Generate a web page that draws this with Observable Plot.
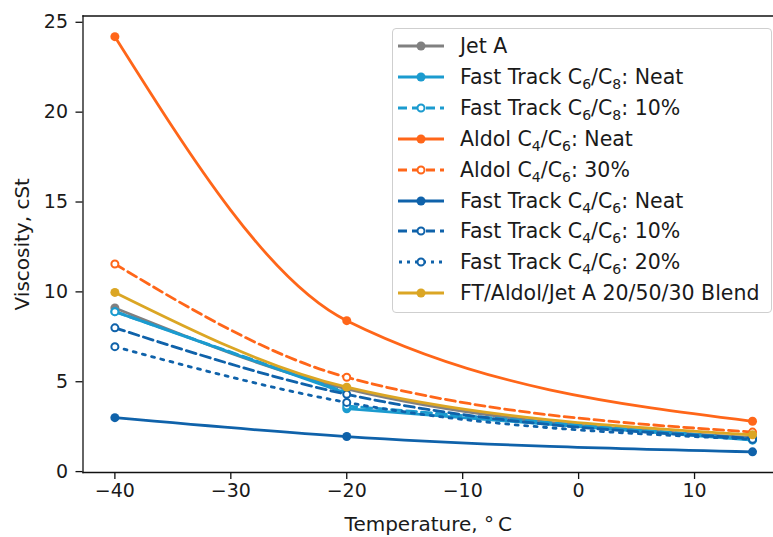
<!DOCTYPE html>
<html>
<head>
<meta charset="utf-8">
<script src="https://cdn.jsdelivr.net/npm/d3@7"></script>
<script src="https://cdn.jsdelivr.net/npm/@observablehq/plot@0.6"></script>
<style>
  html, body { margin: 0; padding: 0; background: #fff; }
  #wrap { position: relative; width: 773px; height: 537px; font-family: "DejaVu Sans", sans-serif; }
  #legend { position: absolute; left: 392px; top: 28px; width: 380px; height: 285px; box-sizing: border-box;
    border: 1px solid #cfcfcf; border-radius: 4px; background: rgba(255,255,255,0.85); }
  .row { position: absolute; left: 0; height: 24px; display: flex; align-items: center; font-size: 20.5px; color: #1a1a1a; white-space: nowrap; }
  .row svg { margin-left: 5px; margin-right: 16px; flex: none; }
  .sub { font-size: 14px; position: relative; top: 5px; }
</style>
</head>
<body>
<div id="wrap"></div>
<script>
// Temperatures (°C) at which each series was read
const temps = [-40, -20, 15];
const seriesNames = [
  "Jet A",
  "Fast Track C6/C8: Neat",
  "Fast Track C6/C8: 10%",
  "Aldol C4/C6: Neat",
  "Aldol C4/C6: 30%",
  "Fast Track C4/C6: Neat",
  "Fast Track C4/C6: 10%",
  "Fast Track C4/C6: 20%",
  "FT/Aldol/Jet A 20/50/30 Blend"
];
const legendLabels = [
  "Jet A",
  "Fast Track C<span class='sub'>6</span>/C<span class='sub'>8</span>: Neat",
  "Fast Track C<span class='sub'>6</span>/C<span class='sub'>8</span>: 10%",
  "Aldol C<span class='sub'>4</span>/C<span class='sub'>6</span>: Neat",
  "Aldol C<span class='sub'>4</span>/C<span class='sub'>6</span>: 30%",
  "Fast Track C<span class='sub'>4</span>/C<span class='sub'>6</span>: Neat",
  "Fast Track C<span class='sub'>4</span>/C<span class='sub'>6</span>: 10%",
  "Fast Track C<span class='sub'>4</span>/C<span class='sub'>6</span>: 20%",
  "FT/Aldol/Jet A 20/50/30 Blend"
];
// Viscosity (cSt) at the marker temperatures
const jetA       = [9.1, 4.6, 1.9];
const ftC6C8Neat = [8.9, 3.5, 1.75];
const ftC6C8_10  = [8.9, 3.65, 1.8];
const aldolNeat  = [24.2, 8.4, 2.8];
const aldol30    = [11.55, 5.25, 2.2];
const ftC4C6Neat = [3.0, 1.95, 1.1];
const ftC4C6_10  = [8.0, 4.3, 1.85];
const ftC4C6_20  = [6.95, 3.85, 1.8];
const blend      = [9.97, 4.7, 2.05];
const values = [jetA, ftC6C8Neat, ftC6C8_10, aldolNeat, aldol30, ftC4C6Neat, ftC4C6_10, ftC4C6_20, blend];

// The Fast Track C6/C8 lines reach −20 °C at this value, then drop to their markers
const ftC6C8LineTemps = [-40, -20, -20, 15];
const ftC6C8NeatLine  = [8.9, 4.35, 3.5, 1.75];
const ftC6C8_10Line   = [8.9, 4.4, 3.65, 1.8];

const colors = ["#808080", "#1b9bcf", "#1b9bcf", "#ff6619", "#ff6619", "#0f62aa", "#0f62aa", "#0f62aa", "#dba624"];
const dashes = [null, null, "10,5", null, "10,5", null, "10,5", "3,6.5", null];
const open   = [false, false, true, false, true, false, true, true, false];
const xTicks = [-40, -30, -20, -10, 0, 10];
const yTicks = [0, 5, 10, 15, 20, 25];

// monotone-x curve that draws a vertical step where two consecutive points share an x
function splitMonotone(context) {
  const inner = d3.curveMonotoneX(context);
  let px, started = false;
  return {
    areaStart() {}, areaEnd() {},
    lineStart() { inner.lineStart(); started = false; },
    lineEnd() { inner.lineEnd(); },
    point(x, y) {
      x = +x; y = +y;
      if (started && Math.abs(x - px) < 1e-6) {
        inner.lineEnd();
        context.lineTo(x, y);
        inner.lineStart();
      }
      inner.point(x, y);
      px = x; started = true;
    }
  };
}

const marks = [];
values.forEach((vals, i) => {
  const data = temps.map((t, j) => ({t, v: vals[j]}));
  let lineData = data;
  if (i === 1) lineData = ftC6C8LineTemps.map((t, j) => ({t, v: ftC6C8NeatLine[j]}));
  if (i === 2) lineData = ftC6C8LineTemps.map((t, j) => ({t, v: ftC6C8_10Line[j]}));
  const lineOpts = {x: "t", y: "v", stroke: colors[i], strokeWidth: 2.8, curve: splitMonotone};
  if (dashes[i]) lineOpts.strokeDasharray = dashes[i];
  marks.push(Plot.line(lineData, lineOpts));
  marks.push(open[i]
    ? Plot.dot(data, {x: "t", y: "v", r: 3.5, fill: "white", stroke: colors[i], strokeWidth: 2})
    : Plot.dot(data, {x: "t", y: "v", r: 4.5, fill: colors[i], stroke: "none"}));
});

const chart = Plot.plot({
  width: 773,
  height: 537,
  marginLeft: 82.5,
  marginRight: 0,
  marginTop: 15.5,
  marginBottom: 65,
  style: {fontFamily: "DejaVu Sans, sans-serif", fontSize: "19px", color: "#1a1a1a", background: "white"},
  x: {domain: [-42.75, 16.81]},
  y: {domain: [-0.05, 25.35]},
  marks: [
    ...marks,
    Plot.frame({anchor: "left", stroke: "#111", strokeWidth: 1.3}),
    Plot.frame({anchor: "top", stroke: "#111", strokeWidth: 1.3}),
    Plot.frame({anchor: "bottom", stroke: "#111", strokeWidth: 1.3}),
    Plot.axisX({ticks: xTicks, tickSize: 7, tickPadding: 4, stroke: "#111", strokeWidth: 1.3, fontSize: 19,
      label: null}),
    Plot.axisX({ticks: [], label: "Temperature, °\u2009C", labelAnchor: "center", labelArrow: "none",
      labelOffset: 58, fontSize: 20}),
    Plot.axisY({ticks: yTicks, tickSize: 7, tickPadding: 8, stroke: "#111", strokeWidth: 1.3, fontSize: 19,
      label: null}),
    Plot.axisY({ticks: [], label: "Viscosity, cSt", labelAnchor: "center", labelArrow: "none",
      labelOffset: 68, fontSize: 20})
  ]
});

const wrap = document.getElementById("wrap");
wrap.appendChild(chart);

const legend = document.createElement("div");
legend.id = "legend";
seriesNames.forEach((name, i) => {
  const row = document.createElement("div");
  row.className = "row";
  row.style.top = (5 + i * 30.9) + "px";
  const dash = dashes[i] ? `stroke-dasharray="${i === 7 ? '3,5' : '9,5'}"` : "";
  const marker = open[i]
    ? `<circle cx="23" cy="12" r="3.5" fill="white" stroke="${colors[i]}" stroke-width="2"/>`
    : `<circle cx="23" cy="12" r="4.5" fill="${colors[i]}"/>`;
  row.innerHTML = `<svg width="46" height="24"><line x1="0" x2="46" y1="12" y2="12" stroke="${colors[i]}" stroke-width="2.8" ${dash} ${i===7 ? 'stroke-dashoffset="-1"' : ''}/>${marker}</svg><span>${legendLabels[i]}</span>`;
  legend.appendChild(row);
});
wrap.appendChild(legend);
</script>
</body>
</html>
